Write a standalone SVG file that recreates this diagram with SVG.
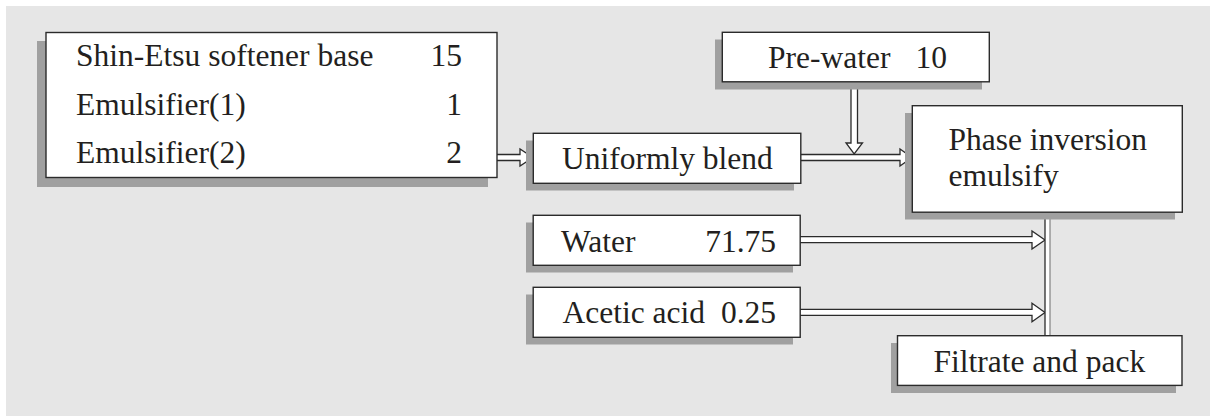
<svg xmlns="http://www.w3.org/2000/svg" width="1210" height="416" viewBox="0 0 1210 416">
<style>
.bg{fill:#e6e6e6}
.sh{fill:#a0a0a0}
.bx{fill:#ffffff;stroke:#2b2b2b;stroke-width:1.4}
.ar{fill:#ffffff;stroke:#2b2b2b;stroke-width:1.3;stroke-linejoin:miter}
.t{font-family:"Liberation Serif","Times New Roman",serif;font-size:31.5px;fill:#231f20}
.e{text-anchor:end}
</style>
<rect class="bg" x="6" y="6" width="1204" height="410"/>
<g id="connectors">
  <path class="ar" d="M497,154.5 H520 V149 L533,157.5 L520,166 V160.5 H497"/>
  <path class="ar" d="M801,154.5 H900 V149 L912,157.5 L900,166 V160.5 H801"/>
  <path class="ar" d="M851,82 V143 H846 L854.2,154 L862.5,143 H857.5 V82"/>
  <path class="ar" d="M800,236.7 H1032 V231 L1045,240 L1032,249 V242.7 H800"/>
  <path class="ar" d="M800,309.3 H1032 V303.3 L1045,312.5 L1032,321.7 V315.3 H800"/>
  <rect x="1045" y="212" width="5" height="124" fill="#ffffff"/>
  <line x1="1045" y1="212" x2="1045" y2="336" stroke="#2b2b2b" stroke-width="1.3"/>
  <line x1="1050" y1="212" x2="1050" y2="336" stroke="#8a8a8a" stroke-width="1.3"/>
</g>
<g id="ingredients">
  <rect class="sh" x="37" y="41" width="451" height="146"/>
  <rect class="bx" x="46" y="32.5" width="451" height="145"/>
  <text class="t" x="76" y="66">Shin-Etsu softener base</text>
  <text class="t e" x="462" y="66">15</text>
  <text class="t" x="76" y="114.5">Emulsifier(1)</text>
  <text class="t e" x="462" y="114.5">1</text>
  <text class="t" x="76" y="162.5">Emulsifier(2)</text>
  <text class="t e" x="462" y="162.5">2</text>
</g>
<g id="blend">
  <rect class="sh" x="526" y="140.5" width="268" height="50"/>
  <rect class="bx" x="533.3" y="133.3" width="267.5" height="50"/>
  <text class="t" x="562" y="168.5">Uniformly blend</text>
</g>
<g id="prewater">
  <rect class="sh" x="715" y="39.5" width="267" height="50"/>
  <rect class="bx" x="722.3" y="32.3" width="267" height="49.5"/>
  <text class="t" x="768" y="67.5">Pre-water</text>
  <text class="t e" x="947" y="67.5">10</text>
</g>
<g id="phase">
  <rect class="sh" x="905" y="113" width="270" height="106.5"/>
  <rect class="bx" x="912.3" y="105.7" width="270" height="106.5"/>
  <text class="t" x="948.5" y="150">Phase inversion</text>
  <text class="t" x="948.5" y="186">emulsify</text>
</g>
<g id="water">
  <rect class="sh" x="526" y="222.5" width="267" height="50"/>
  <rect class="bx" x="533.2" y="215.3" width="267" height="50"/>
  <text class="t" x="561" y="251.5">Water</text>
  <text class="t e" x="776" y="251.5">71.75</text>
</g>
<g id="acetic">
  <rect class="sh" x="526" y="294.5" width="267" height="50"/>
  <rect class="bx" x="533.2" y="287.3" width="267" height="50"/>
  <text class="t" x="562.5" y="322.5">Acetic acid</text>
  <text class="t e" x="776" y="322.5">0.25</text>
</g>
<g id="filtrate">
  <rect class="sh" x="891" y="343" width="285" height="50"/>
  <rect class="bx" x="897.5" y="335.7" width="284.5" height="49.7"/>
  <text class="t" x="933.5" y="372">Filtrate and pack</text>
</g>
</svg>
